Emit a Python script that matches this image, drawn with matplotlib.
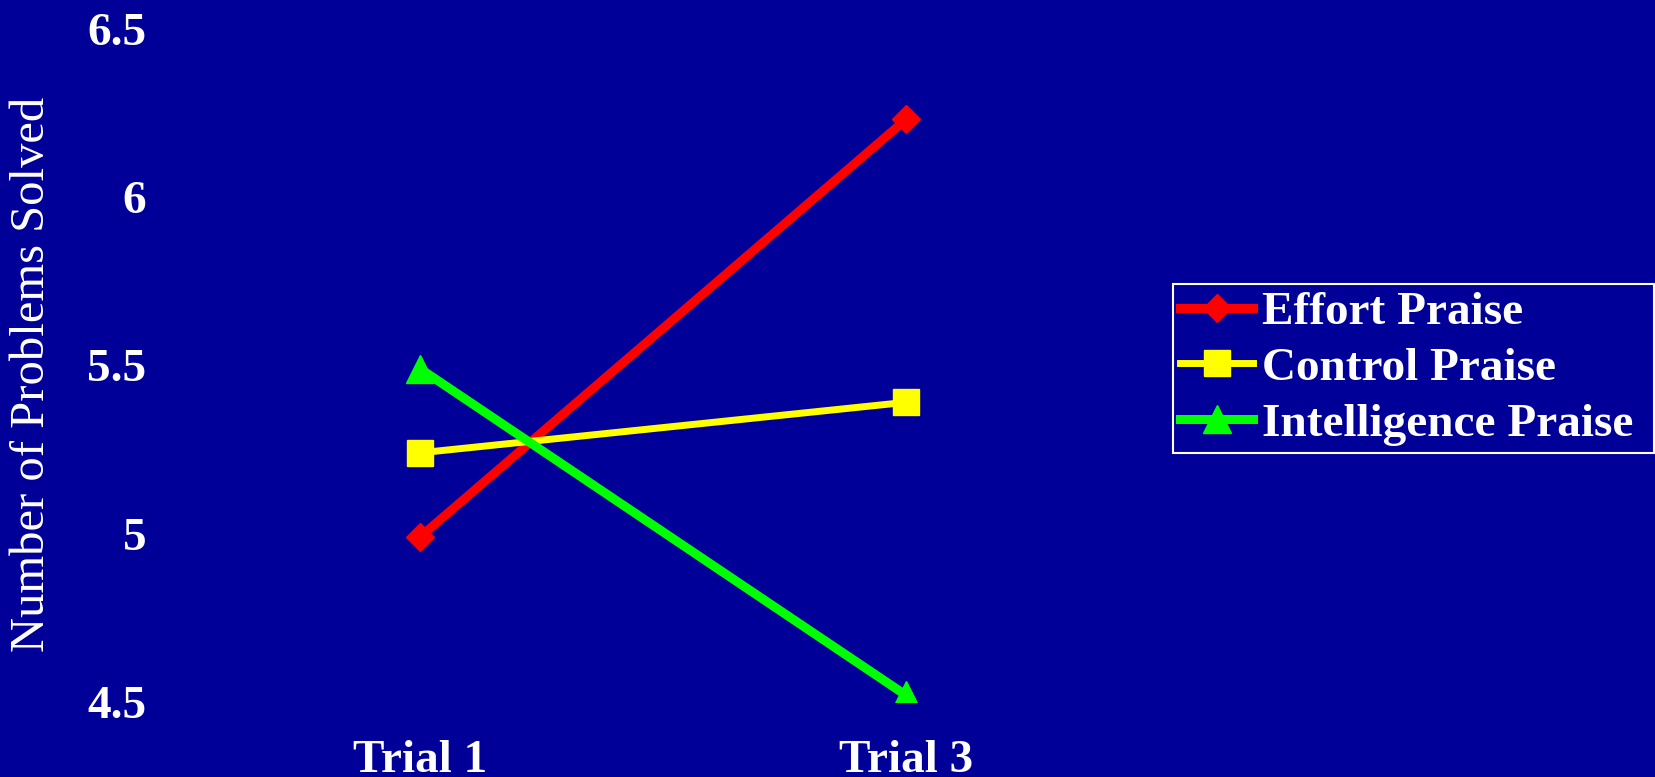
import matplotlib.pyplot as plt

# values
trials = ['Trial 1', 'Trial 3']
effort = [4.99, 6.23]
control = [5.24, 5.39]
intelligence = [5.49, 4.52]

bg = '#000099'
plt.rcParams['font.family'] = ['Liberation Serif', 'DejaVu Serif']

fig = plt.figure(figsize=(16.56, 7.77), dpi=100, facecolor=bg)
ax = fig.add_axes([0.1069, 0.0965, 0.587, 0.8668], facecolor=bg)

x = [0.5, 1.5]
ax.plot(x, effort, color='#ff0000', lw=6.5, marker='D', ms=14.5, label='Effort Praise')
ax.plot(x, control, color='#ffff00', lw=5, marker='s', ms=18.5, label='Control Praise')
ax.plot(x, intelligence, color='#00ff00', lw=6.5, marker='^', ms=20, label='Intelligence Praise')

ax.set_xlim(0, 2)
ax.set_ylim(4.5, 6.5)
ax.set_xticks(x)
ax.set_xticklabels(trials)
ax.set_yticks([4.5, 5, 5.5, 6, 6.5])
ax.set_yticklabels(['4.5', '5', '5.5', '6', '6.5'])
ax.tick_params(axis='both', length=0, labelsize=34, labelcolor='white')
ax.tick_params(axis='x', pad=27)
ax.tick_params(axis='y', pad=22)
for lab in ax.get_xticklabels() + ax.get_yticklabels():
    lab.set_fontweight('bold')
for s in ax.spines.values():
    s.set_visible(False)

ax.set_ylabel('Number of Problems Solved', fontsize=35, color='white', va='center')
ax.yaxis.set_label_coords(-0.149, 0.486)

leg = ax.legend(loc='upper left', bbox_to_anchor=(0.7083, 0.417, 0.2905, 0.2175),
                bbox_transform=fig.transFigure, mode='expand',
                borderaxespad=0, fancybox=False, facecolor=bg, edgecolor='white',
                framealpha=1, handlelength=1.55, handletextpad=0.18, labelspacing=0.27,
                borderpad=0.15, prop={'size': 34, 'weight': 'bold'})
leg.get_frame().set_linewidth(1.5)
for t in leg.get_texts():
    t.set_color('white')

fig.savefig('out.png', dpi=100, facecolor=bg)
